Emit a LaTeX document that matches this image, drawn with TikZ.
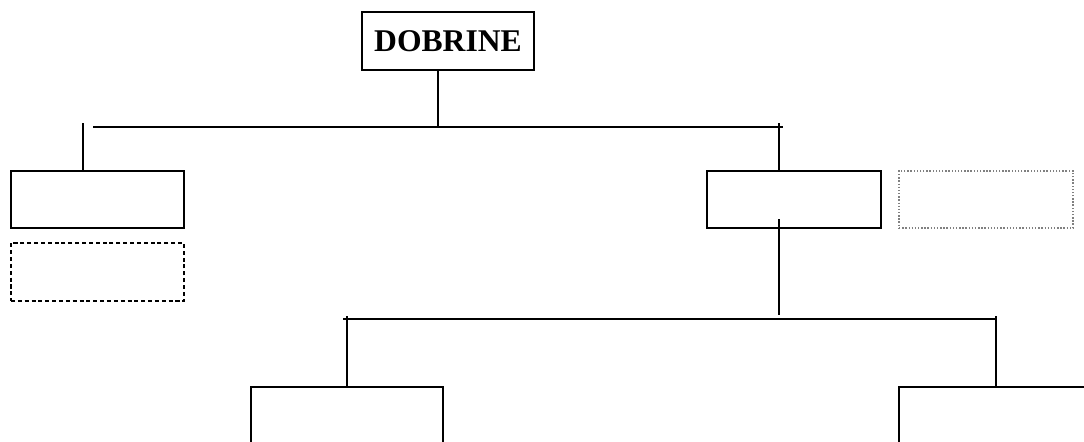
\documentclass[tikz,border=0pt]{standalone}
\usepackage{fontspec}
\setmainfont{Liberation Serif}
\usepackage{amsmath}

\begin{document}
\begin{tikzpicture}[x=0.02cm, y=-0.02cm,
  box/.style={draw, line width=1.1pt, inner sep=0pt, minimum width=3.46cm, minimum height=1.14cm},
  dashbox/.style={box, line width=0.9pt, dash pattern=on 2.3pt off 1.6pt},
  dotbox/.style={box, draw=gray, line width=0.8pt, densely dotted},
  link/.style={line width=1.1pt}]
\useasboundingbox (0,0) rectangle (1084,441);
\node[box, minimum width=3.44cm, minimum height=1.16cm, font=\fontsize{18}{20}\selectfont\bfseries] (dobrine) at (448,41) {DOBRINE};
\node[box] (left) at (97.5,199.5) {};
\node[dashbox, minimum height=1.16cm] (leftextra) at (97.5,272) {};
\node[box, minimum width=3.48cm] (right) at (794,199.5) {};
\node[dotbox, minimum width=3.48cm] (rightextra) at (986,199.5) {};
\node[box, minimum width=3.84cm] (lowleft) at (347,415.5) {};
\node[box, minimum width=3.88cm] (lowright) at (996,415.5) {};
% upper bar
\coordinate (top) at (438,127);
\coordinate (barL) at (93,127);
\coordinate (barR) at (783,127);
\coordinate (legL) at (83,123);
\coordinate (legR) at (779,123);
\draw[link] (dobrine.south -| top) -- (top);
\draw[link] (barL) -- (barR);
\draw[link] (legL) -- (legL |- left.north);
\draw[link] (legR) -- (legR |- right.north);
% lower bar
\coordinate (stemA) at (779,219);
\coordinate (stemB) at (779,315);
\coordinate (lowbarL) at (343,319);
\coordinate (lowbarR) at (996,319);
\coordinate (lowlegL) at (347,316);
\coordinate (lowlegR) at (996,316);
\draw[link] (stemA) -- (stemB);
\draw[link] (lowbarL) -- (lowbarR);
\draw[link] (lowlegL) -- (lowlegL |- lowleft.north);
\draw[link] (lowlegR) -- (lowlegR |- lowright.north);
\end{tikzpicture}
\end{document}
